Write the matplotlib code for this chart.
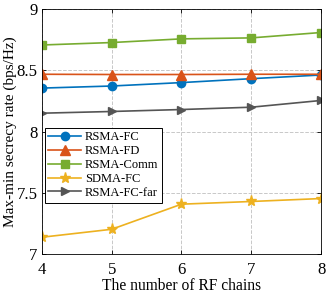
import matplotlib
matplotlib.use('Agg')
import matplotlib.pyplot as plt
import numpy as np

plt.rcParams['font.family'] = ['Liberation Serif', 'DejaVu Serif']
plt.rcParams['mathtext.fontset'] = 'stix'

rf_chains = [4, 5, 6, 7, 8]
rsma_fc = [8.355, 8.372, 8.400, 8.432, 8.462]
rsma_fd = [8.468, 8.466, 8.466, 8.468, 8.468]
rsma_comm = [8.707, 8.727, 8.757, 8.765, 8.809]
sdma_fc = [7.137, 7.202, 7.407, 7.429, 7.453]
rsma_fc_far = [8.150, 8.164, 8.180, 8.199, 8.254]

fig = plt.figure(figsize=(3.27, 2.94), dpi=100)
ax = fig.add_axes([0.128, 0.136, 0.854, 0.833])

lw = 1.2
ax.plot(rf_chains, rsma_fc, '-o', color='#0072BD', label='RSMA-FC', linewidth=lw, markersize=6)
ax.plot(rf_chains, rsma_fd, '-^', color='#D95319', label='RSMA-FD', linewidth=lw, markersize=7)
ax.plot(rf_chains, rsma_comm, '-s', color='#77AC30', label='RSMA-Comm', linewidth=lw, markersize=5.5)
ax.plot(rf_chains, sdma_fc, '-*', color='#EDB120', label='SDMA-FC', linewidth=lw, markersize=8)
ax.plot(rf_chains, rsma_fc_far, '->', color='#555555', label='RSMA-FC-far', linewidth=lw, markersize=6)

ax.set_xlim(4, 8)
ax.set_ylim(7, 9)
ax.set_xticks([4, 5, 6, 7, 8])
ax.set_yticks([7, 7.5, 8, 8.5, 9])
ax.set_yticklabels(['7', '7.5', '8', '8.5', '9'])
ax.set_xlabel('The number of RF chains', fontsize=11.2, labelpad=0)
ax.set_ylabel('Max-min secrecy rate (bps/Hz)', fontsize=11, labelpad=0)
ax.tick_params(direction='in', top=True, right=True, labelsize=12, length=3, width=0.6)
ax.tick_params(axis='x', pad=6)
ax.tick_params(axis='y', pad=3)
ax.grid(True, linestyle='--', color='#c8c8c8', linewidth=0.7)
for s in ax.spines.values():
    s.set_linewidth(0.6)

leg = ax.legend(loc='lower left', bbox_to_anchor=(0.01, 0.21), fontsize=9,
                fancybox=False, edgecolor='black', framealpha=1,
                labelspacing=0.15, handlelength=2.6, borderpad=0.3,
                handletextpad=0.3, borderaxespad=0)
leg.get_frame().set_linewidth(0.7)

fig.savefig('out.png', dpi=100)
